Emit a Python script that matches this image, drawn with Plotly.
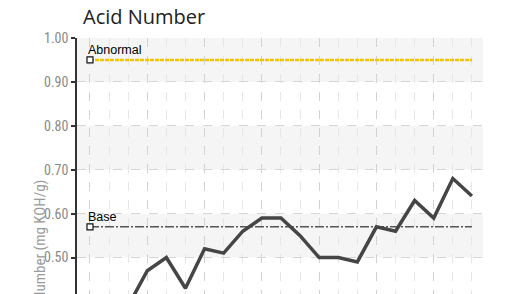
import plotly.graph_objects as go

title_text = "Acid Number"
y_title = "Acid Number (mg KOH/g)"
samples = list(range(2, 21))
acid_values = [0.39, 0.47, 0.50, 0.43, 0.52, 0.51, 0.56, 0.59, 0.59, 0.55,
               0.50, 0.50, 0.49, 0.57, 0.56, 0.63, 0.59, 0.68, 0.64]
limit_x = [0, 20]
abnormal_level = [0.95, 0.95]
base_level = [0.57, 0.57]
y_ticks = [0.4, 0.5, 0.6, 0.7, 0.8, 0.9, 1.0]
y_tick_labels = ["0.40", "0.50", "0.60", "0.70", "0.80", "0.90", "1.00"]
band_pairs = [(0.9, 1.0), (0.7, 0.8), (0.5, 0.6)]

narrow = "Liberation Sans Narrow, Roboto Condensed, Arial Narrow, Liberation Sans, sans-serif"
label_font = "Liberation Sans, Arial, sans-serif"

fig = go.Figure()

fig.add_trace(go.Scatter(x=limit_x, y=abnormal_level, mode="lines",
                         line=dict(color="#f5c400", width=2.5, dash="4px,1px"),
                         hoverinfo="skip", showlegend=False))
fig.add_trace(go.Scatter(x=limit_x, y=base_level, mode="lines",
                         line=dict(color="#555555", width=1.6, dash="9px,2px,2px,2px"),
                         hoverinfo="skip", showlegend=False))
fig.add_trace(go.Scatter(x=[limit_x[0], limit_x[0]], y=[abnormal_level[0], base_level[0]],
                         mode="markers",
                         marker=dict(symbol="square", size=6, color="white",
                                     line=dict(color="#111111", width=1.2)),
                         showlegend=False))
fig.add_trace(go.Scatter(x=samples, y=acid_values, mode="lines",
                         line=dict(color="#454545", width=3.5),
                         showlegend=False))

for lo, hi in band_pairs:
    fig.add_shape(type="rect", xref="paper", yref="y", x0=0, x1=1, y0=lo, y1=hi,
                  fillcolor="#f5f5f5", line=dict(width=0), layer="below")

fig.add_annotation(text="Abnormal", x=limit_x[0], y=abnormal_level[0], xref="x", yref="y",
                   xanchor="left", yanchor="bottom", xshift=-4, yshift=1, showarrow=False,
                   font=dict(family=label_font, size=12.5, color="#000000"))
fig.add_annotation(text="Base", x=limit_x[0], y=base_level[0], xref="x", yref="y",
                   xanchor="left", yanchor="bottom", xshift=-4, yshift=1, showarrow=False,
                   font=dict(family=label_font, size=12.5, color="#000000"))

fig.add_annotation(text=title_text, xref="paper", yref="paper", x=0.01, y=1.083,
                   xanchor="left", yanchor="middle", showarrow=False,
                   font=dict(family="Open Sans, Noto Sans, sans-serif", size=20, color="#222222"))

fig.add_annotation(text=y_title, xref="paper", yref="paper", x=-0.092, y=0.455,
                   xanchor="center", yanchor="top", textangle=-90, showarrow=False,
                   font=dict(family=narrow, size=15, color="#9a9a9a"))

fig.update_layout(
    width=505, height=294,
    margin=dict(l=77, r=22, t=38, b=0),
    paper_bgcolor="white", plot_bgcolor="white",
    xaxis=dict(range=[-0.68, 20.58], showticklabels=False, zeroline=False,
               tickmode="linear", tick0=0, dtick=3,
               showgrid=True, gridcolor="#d2d2d2", griddash="dash", gridwidth=1,
               minor=dict(tickmode="linear", tick0=0, dtick=1, showgrid=True,
                          gridcolor="#e6e6e6", griddash="dash", gridwidth=1),
               showline=False, ticks=""),
    yaxis=dict(range=[0.417, 1.0], tickvals=y_ticks, ticktext=y_tick_labels,
               showgrid=True, gridcolor="#d6d6d6", griddash="dash", gridwidth=1,
               zeroline=False, showline=True, linecolor="#333333", linewidth=1.5,
               ticks="outside", ticklen=4, tickcolor="#333333", tickwidth=1.5,
               tickfont=dict(family=narrow, size=14, color="#8a8a8a")),
)

fig.write_html("out.html", config={"displayModeBar": False},
               post_script="document.body.style.margin='0';")
